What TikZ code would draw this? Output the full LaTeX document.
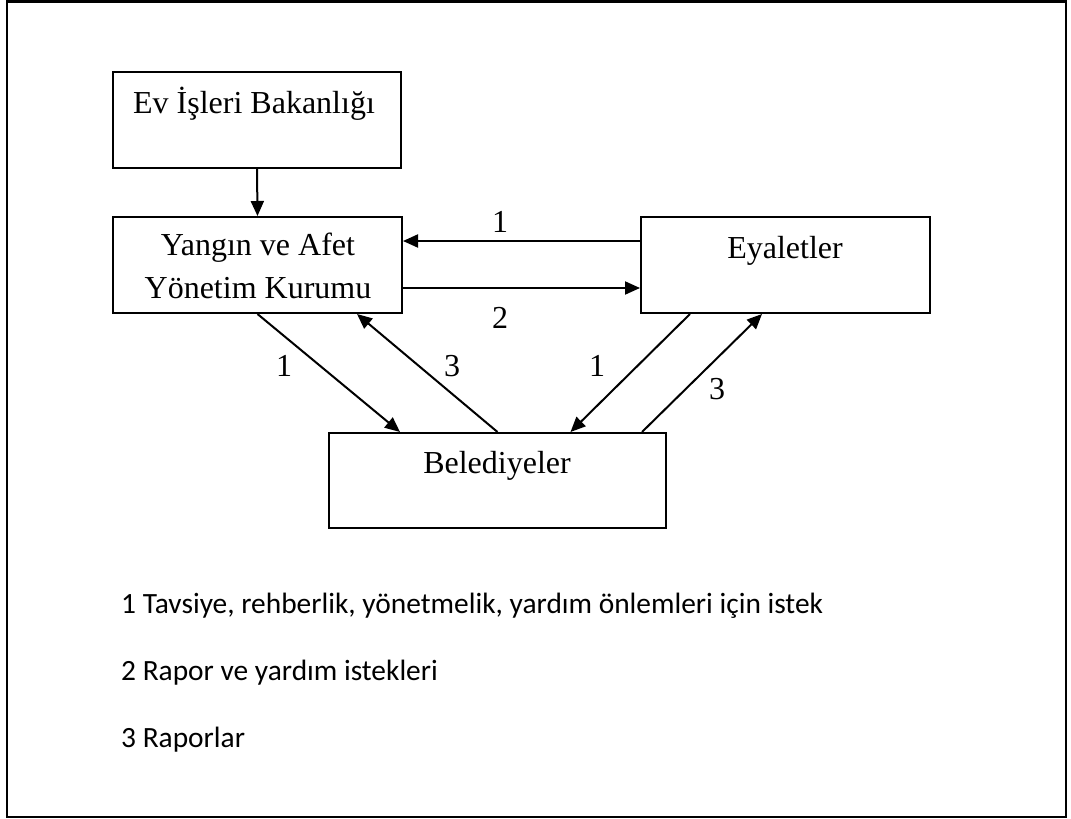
\documentclass[tikz,border=0pt]{standalone}
\usepackage{fontspec}
\setmainfont{Liberation Serif}
\newfontfamily\legendfont{Carlito}
\usetikzlibrary{arrows.meta,calc}

\begin{document}
\begin{tikzpicture}[x=1pt,y=-1pt,
  box/.style={draw,line width=2pt,rectangle,inner sep=0pt},
  lbl/.style={anchor=base,font=\fontsize{32}{37}\selectfont,inner sep=0pt},
  conn/.style={line width=2pt,-{Triangle[length=15pt,width=13pt]}},
  leg/.style={anchor=base west,font=\legendfont\fontsize{29.4}{34}\selectfont,inner sep=0pt}]
\useasboundingbox (0,0) rectangle (1071,819);
% outer frame
\draw[line width=2.5pt] (7,1.5) rectangle (1066,817);

% boxes
\node[box,minimum width=288pt,minimum height=96pt] (ev)  at (257,120) {};
\node[box,minimum width=289pt,minimum height=96pt] (yan) at (257.5,265) {};
\node[box,minimum width=289pt,minimum height=96pt] (eya) at (785.5,265) {};
\node[box,minimum width=337pt,minimum height=95pt] (bel) at (497.5,480.5) {};

% box texts
\node[lbl] (evt)  at (254,113) {Ev İşleri Bakanlığı};
\node[lbl] (yant1) at (258,255) {Yangın ve Afet};
\node[lbl] (yant2) at (258,298) {Yönetim Kurumu};
\node[lbl] (eyat) at (785,258) {Eyaletler};
\node[lbl] (belt) at (497,473) {Belediyeler};

% connectors
\draw[conn] (ev.south) -- (yan.north);
\draw[conn] ($(eya.west)+(0,-24)$) -- ($(yan.east)+(0,-24)$);
\draw[conn] ($(yan.east)+(0,23)$) -- ($(eya.west)+(0,23)$);
\draw[conn] (yan.south) -- ($(bel.north)+(-97.5,0)$);
\draw[conn] (bel.north) -- ($(yan.south)+(99.5,0)$);
\draw[conn] ($(eya.south)+(-95.5,0)$) -- ($(bel.north)+(73,0)$);
\draw[conn] ($(bel.north)+(144.5,0)$) -- ($(eya.south)+(-23.5,0)$);

% connector numbers
\node[lbl] (n1) at (500,232) {1};
\node[lbl] (n2) at (500,328) {2};
\node[lbl] (n3) at (284,376) {1};
\node[lbl] (n4) at (452,376) {3};
\node[lbl] (n5) at (597,376) {1};
\node[lbl] (n6) at (717,399) {3};

% legend
\node[leg] (l1) at (121,613) {1 Tavsiye, rehberlik, yönetmelik, yardım önlemleri için istek};
\node[leg] (l2) at (121,680) {2 Rapor ve yardım istekleri};
\node[leg] (l3) at (121,747) {3 Raporlar};
\end{tikzpicture}
\end{document}
